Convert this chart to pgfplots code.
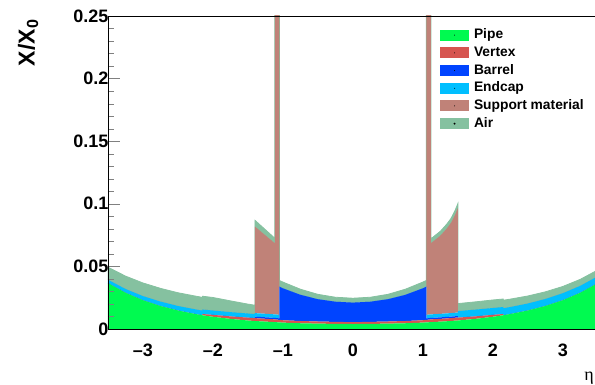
\documentclass[border=0pt]{standalone}
\usepackage{pgfplots}
\pgfplotsset{compat=1.18}
\usepackage{pgfplotstable}
\usepackage{fontspec}
\setmainfont{Liberation Sans}
\newfontfamily\serifgreek{Liberation Serif}
\definecolor{pipecol}{RGB}{0,250,80}
\definecolor{vertcol}{RGB}{214,85,80}
\definecolor{barcol}{RGB}{0,68,255}
\definecolor{endcol}{RGB}{0,191,255}
\definecolor{supcol}{RGB}{192,130,120}
\definecolor{aircol}{RGB}{133,193,160}

\pgfplotstableread{
eta pipe vtx bar end sup air
-3.50 0.0366 0 0 0.0027 0 0.0100
-3.25 0.0289 0 0 0.0030 0 0.0103
-3.00 0.0229 0 0 0.0033 0 0.0105
-2.75 0.0183 0 0 0.0035 0 0.0106
-2.50 0.0147 0 0 0.0036 0 0.0106
-2.25 0.0119 0 0 0.0037 0 0.0106
-2.15 0.0109 0 0 0.0037 0 0.0106
-2.15 0.0109 0.0010 0 0.0036 0 0.0106
-2.00 0.0097 0.0015 0 0.0035 0 0.0104
-1.75 0.0080 0.0020 0 0.0034 0 0.0090
-1.50 0.0067 0.0023 0 0.0033 0 0.0075
-1.40 0.0063 0.0023 0 0.0033 0 0.0070
-1.40 0.0063 0.0023 0.0012 0.0028 0.0692 0.0050
-1.115 0.0054 0.0022 0.0012 0.0028 0.0568 0.0040
-1.115 0.0054 0.0022 0.0012 0.0028 0.3000 0
-1.05 0.0052 0.0020 0.0012 0.0028 0.3000 0
-1.05 0.0052 0.0020 0.0265 0 0 0.0050
-1.00 0.0050 0.0019 0.0255 0 0 0.0050
-0.75 0.0045 0.0018 0.0209 0 0 0.0045
-0.50 0.0042 0.0017 0.0178 0 0 0.0039
-0.25 0.0040 0.0016 0.0161 0 0 0.0036
0.00 0.0039 0.0015 0.0156 0 0 0.0035
0.25 0.0040 0.0016 0.0161 0 0 0.0036
0.50 0.0042 0.0017 0.0178 0 0 0.0039
0.75 0.0045 0.0018 0.0209 0 0 0.0045
1.00 0.0050 0.0019 0.0255 0 0 0.0050
1.05 0.0052 0.0020 0.0265 0 0 0.0050
1.05 0.0052 0.0020 0.0012 0.0028 0.3000 0
1.115 0.0054 0.0022 0.0012 0.0028 0.3000 0
1.115 0.0054 0.0022 0.0012 0.0028 0.0569 0.0035
1.25 0.0058 0.0022 0.0012 0.0028 0.0625 0.0035
1.34 0.0061 0.0023 0.0012 0.0028 0.0677 0.0035
1.40 0.0063 0.0023 0.0012 0.0028 0.0720 0.0035
1.46 0.0066 0.0023 0.0012 0.0028 0.0782 0.0035
1.50 0.0067 0.0023 0.0012 0.0028 0.0836 0.0035
1.50 0.0067 0.0023 0 0.0052 0 0.0060
1.75 0.0080 0.0020 0 0.0054 0 0.0062
2.00 0.0097 0.0015 0 0.0055 0 0.0064
2.15 0.0109 0.0010 0 0.0056 0 0.0064
2.15 0.0109 0 0 0.0056 0 0.0064
2.25 0.0119 0 0 0.0056 0 0.0063
2.50 0.0147 0 0 0.0056 0 0.0060
2.75 0.0183 0 0 0.0056 0 0.0057
3.00 0.0229 0 0 0.0056 0 0.0054
3.25 0.0289 0 0 0.0055 0 0.0052
3.50 0.0366 0 0 0.0055 0 0.0050
}\mat

\begin{document}
\begin{tikzpicture}
\begin{axis}[
  scale only axis, width=487pt, height=313pt,
  xmin=-3.5, xmax=3.457, ymin=0, ymax=0.25,
  axis x line*=box, axis y line*=left,
  axis line style={-},
  stack plots=y,
  axis on top,
  xtick={-3,-2,-1,0,1,2,3},
  xticklabels={--3,--2,--1,0,1,2,3},
  ytick={0,0.05,0.1,0.15,0.2,0.25},
  yticklabels={0,0.05,0.1,0.15,0.2,0.25},
  minor y tick num=4,
  xtick style={draw=none},
  ytick pos=left,
  tick align=inside,
  major tick length=12pt, minor tick length=6pt,
  ticklabel style={font=\fontsize{18}{18}\selectfont\bfseries},
  xticklabel style={yshift=-12pt},
  yticklabel style={xshift=4pt},
  xlabel={\serifgreek η},
  xlabel style={at={(axis description cs:0.988,0)}, anchor=center, inner sep=0pt, yshift=-49pt, font=\fontsize{18}{18}\selectfont},
  ylabel={X/X\textsubscript{0}},
  ylabel style={at={(axis description cs:-0.164,1)}, anchor=east, font=\fontsize{23}{23}\selectfont\bfseries},
  legend image code/.code={\fill[#1,draw=none] (0pt,-5.5pt) rectangle (29pt,5.5pt); \fill[black] (14.5pt,0pt) circle (0.5pt);},
  legend style={at={(rel axis cs:0.6817,0.9569)}, anchor=north west, draw=none, fill=none,
    inner sep=0pt, row sep=6.7pt, font=\fontsize{13.8}{14}\selectfont\bfseries,
    nodes={inner sep=0pt, text height=9pt, text depth=2pt},
    /tikz/every odd column/.append style={column sep=5pt}},
  legend cell align=left,
]
\addplot[fill=pipecol, draw=none] table[x=eta,y=pipe]{\mat} \closedcycle;
\addlegendentry{Pipe}
\addplot[fill=vertcol, draw=none] table[x=eta,y=vtx]{\mat} \closedcycle;
\addlegendentry{Vertex}
\addplot[fill=barcol, draw=none] table[x=eta,y=bar]{\mat} \closedcycle;
\addlegendentry{Barrel}
\addplot[fill=endcol, draw=none] table[x=eta,y=end]{\mat} \closedcycle;
\addlegendentry{Endcap}
\addplot[fill=supcol, draw=none] table[x=eta,y=sup]{\mat} \closedcycle;
\addlegendentry{Support material}
\addplot[fill=aircol, draw=aircol, line width=0.8pt] table[x=eta,y=air]{\mat} \closedcycle;
\addlegendentry{Air}
\end{axis}
\path (-108pt,-56pt) rectangle (487pt,329pt);
\end{tikzpicture}
\end{document}
